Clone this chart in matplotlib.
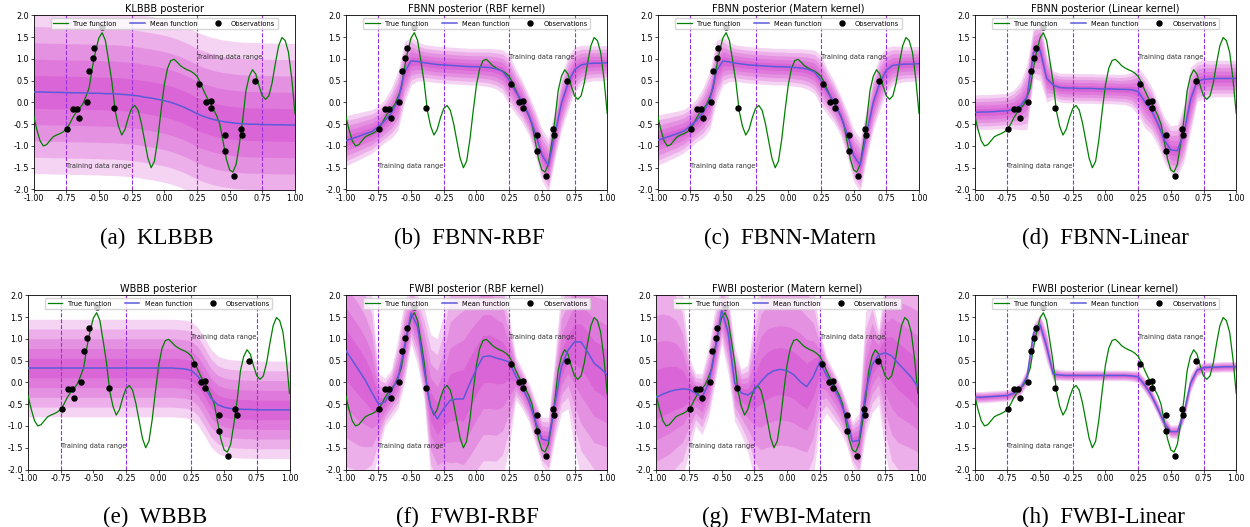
import numpy as np
import matplotlib.pyplot as plt

# true function on a 0.025 grid
x_true = np.linspace(-1, 1, 81)
y_true = [-0.30, -0.62, -0.88, -1.00, -0.97, -0.88, -0.79, -0.75, -0.72, -0.68,
          -0.62, -0.50, -0.35, -0.23, -0.14, -0.05, 0.13, 0.33, 0.80, 1.18,
          1.48, 1.60, 1.42, 0.95, 0.46, -0.20, -0.55, -0.75, -0.62, -0.35,
          -0.14, -0.07, -0.18, -0.48, -0.88, -1.28, -1.50, -1.35, -0.85, -0.20,
          0.40, 0.78, 0.96, 0.99, 0.92, 0.84, 0.79, 0.75, 0.72, 0.67,
          0.60, 0.46, 0.28, 0.12, 0.00, -0.15, -0.30, -0.50, -0.90, -1.30,
          -1.55, -1.60, -1.42, -0.95, -0.40, 0.27, 0.60, 0.75, 0.65, 0.38,
          0.15, 0.07, 0.15, 0.45, 0.90, 1.30, 1.49, 1.42, 1.15, 0.55,
          -0.25]

obs_x = [-0.743, -0.697, -0.667, -0.651, -0.593, -0.573, -0.547, -0.534, -0.476, -0.384,
         0.267, 0.323, 0.354, 0.354, 0.461, 0.461, 0.532, 0.585, 0.595, 0.692]
obs_y = [-0.60, -0.16, -0.16, -0.36, 0.00, 0.73, 1.03, 1.24, 1.72, -0.14,
         0.43, 0.02, 0.03, -0.13, -0.75, -1.12, -1.68, -0.62, -0.75, 0.49]

# posterior summaries on a 0.05 grid
x_grid = np.linspace(-1, 1, 41)

kl_mean = [0.24, 0.24, 0.235, 0.23, 0.23, 0.225, 0.22, 0.22, 0.215,
           0.21, 0.21, 0.20, 0.20, 0.19, 0.18, 0.165, 0.15, 0.12, 0.10, 0.07,
           0.04, 0.0, -0.05, -0.11, -0.18, -0.26, -0.32, -0.37, -0.41, -0.44,
           -0.46, -0.48, -0.49, -0.50, -0.50, -0.51, -0.51, -0.515, -0.515, -0.52, -0.52]
kl_width = [1.875, 1.875, 1.875, 1.875, 1.875, 1.875, 1.875, 1.875, 1.875,
            1.875, 1.875, 1.875, 1.875, 1.875, 1.875, 1.875, 1.875, 1.875, 1.875, 1.875,
            1.875, 1.875, 1.875, 1.875, 1.875, 1.875, 1.875, 1.875, 1.875, 1.875,
            1.875, 1.875, 1.875, 1.875, 1.875, 1.875, 1.875, 1.875, 1.875, 1.875, 1.875]

rbf_mean = [-0.88, -0.83, -0.78, -0.72, -0.67, -0.56, -0.42, -0.24, 0.04,
            0.70, 0.95, 0.94, 0.91, 0.89, 0.87, 0.86, 0.85, 0.84, 0.83, 0.82,
            0.82, 0.81, 0.80, 0.77, 0.71, 0.52, 0.25, 0.02, -0.29, -0.70,
            -1.20, -1.45, -0.72, -0.02, 0.44, 0.75, 0.86, 0.89, 0.90, 0.90, 0.91]
rbf_width = [0.58, 0.56, 0.54, 0.52, 0.50, 0.48, 0.50, 0.58, 0.68,
             0.70, 0.55, 0.45, 0.42, 0.42, 0.42, 0.42, 0.42, 0.42, 0.42, 0.42,
             0.42, 0.43, 0.44, 0.46, 0.50, 0.58, 0.52, 0.48, 0.46, 0.52,
             0.60, 0.62, 0.58, 0.62, 0.62, 0.52, 0.45, 0.42, 0.40, 0.40, 0.40]

mat_mean = [-0.87, -0.82, -0.77, -0.72, -0.66, -0.55, -0.41, -0.23, 0.05,
            0.72, 0.95, 0.93, 0.90, 0.88, 0.86, 0.85, 0.84, 0.83, 0.82, 0.82,
            0.81, 0.80, 0.79, 0.76, 0.70, 0.51, 0.24, 0.01, -0.30, -0.72,
            -1.22, -1.44, -0.70, 0.00, 0.45, 0.74, 0.85, 0.87, 0.88, 0.88, 0.89]
mat_width = [0.58, 0.56, 0.54, 0.52, 0.50, 0.48, 0.50, 0.58, 0.68,
             0.70, 0.55, 0.45, 0.42, 0.42, 0.42, 0.42, 0.42, 0.42, 0.42, 0.42,
             0.42, 0.43, 0.44, 0.46, 0.50, 0.58, 0.52, 0.48, 0.46, 0.52,
             0.60, 0.62, 0.58, 0.62, 0.62, 0.52, 0.45, 0.42, 0.40, 0.40, 0.40]

lin_mean = [-0.23, -0.22, -0.22, -0.21, -0.20, -0.19, -0.16, -0.08, 0.13,
            1.15, 1.20, 0.55, 0.40, 0.34, 0.33, 0.33, 0.32, 0.32, 0.32, 0.31,
            0.31, 0.31, 0.30, 0.30, 0.29, 0.25, 0.02, -0.17, -0.48, -0.86,
            -1.09, -1.11, -0.71, 0.06, 0.48, 0.53, 0.54, 0.55, 0.55, 0.55, 0.55]
lin_width = [0.40, 0.40, 0.40, 0.40, 0.40, 0.40, 0.45, 0.55, 0.75,
             0.60, 0.70, 0.55, 0.32, 0.33, 0.34, 0.34, 0.34, 0.34, 0.34, 0.34,
             0.34, 0.34, 0.34, 0.35, 0.40, 0.55, 0.60, 0.55, 0.50, 0.52,
             0.55, 0.60, 0.65, 0.75, 0.46, 0.45, 0.42, 0.42, 0.42, 0.42, 0.42]

wb_mean = [0.33, 0.33, 0.33, 0.33, 0.33, 0.33, 0.33, 0.33, 0.33,
           0.33, 0.33, 0.33, 0.33, 0.33, 0.33, 0.33, 0.33, 0.33, 0.33, 0.33,
           0.33, 0.33, 0.33, 0.32, 0.31, 0.27, 0.14, -0.10, -0.36, -0.51,
           -0.57, -0.60, -0.61, -0.62, -0.62, -0.63, -0.63, -0.63, -0.63, -0.63, -0.63]
wb_width = [1.12, 1.12, 1.12, 1.12, 1.12, 1.12, 1.12, 1.12, 1.12,
            1.12, 1.12, 1.12, 1.12, 1.12, 1.12, 1.12, 1.12, 1.12, 1.12, 1.12,
            1.12, 1.12, 1.12, 1.12, 1.12, 1.12, 1.12, 1.12, 1.12, 1.12,
            1.12, 1.12, 1.12, 1.12, 1.12, 1.12, 1.12, 1.12, 1.12, 1.12, 1.12]

fwbi_rbf_mean = [0.73, 0.51, 0.28, 0.05, -0.23, -0.50, -0.45, -0.19, 0.09,
                 0.82, 1.59, 1.28, 0.28, -0.57, -0.84, -0.60, -0.41, -0.38, -0.38, -0.02,
                 0.31, 0.59, 0.61, 0.56, 0.52, 0.47, 0.15, -0.11, -0.42, -0.88,
                 -1.30, -1.34, -0.50, 0.36, 0.74, 0.93, 0.93, 0.70, 0.44, 0.32, 0.17]
fwbi_rbf_hi = [3.2, 3.0, 2.8, 2.5, 2.0, 0.2, 0.1, 0.3, 1.0,
               1.9, 2.2, 2.0, 1.7, 1.1, 1.0, 1.6, 2.6, 2.8, 3.0, 3.0,
               3.0, 3.0, 3.0, 2.8, 2.6, 1.5, 0.6, 0.3, 0.0, -0.4,
               -0.8, -0.8, 0.6, 2.2, 2.5, 3.0, 3.0, 3.0, 3.0, 3.0, 3.0]
fwbi_rbf_lo = [-2.6, -2.6, -2.6, -2.5, -2.3, -1.6, -1.0, -0.8, -0.6,
               0.0, 0.9, 0.4, -0.4, -2.2, -2.6, -2.6, -2.8, -2.8, -2.9, -2.8,
               -2.6, -2.4, -2.4, -2.4, -2.2, -1.5, -0.4, -0.6, -0.9, -1.4,
               -1.9, -2.1, -1.3, -0.7, -0.6, -1.5, -2.2, -2.4, -2.6, -2.6, -2.6]

fwbi_mat_mean = [-0.34, -0.27, -0.21, -0.17, -0.15, -0.16, -0.25, -0.34, -0.02,
                 0.74, 1.66, 1.13, -0.02, -0.24, -0.29, -0.18, 0.02, 0.18, 0.27, 0.30,
                 0.27, 0.18, 0.02, -0.10, 0.13, 0.47, 0.17, -0.08, -0.37, -0.79,
                 -1.36, -1.33, -0.25, 0.40, 0.63, 0.68, 0.61, 0.44, 0.28, 0.12, -0.10]
fwbi_mat_hi = [2.8, 2.8, 2.7, 2.5, 2.0, 0.6, 0.2, 0.2, 0.8,
               1.7, 2.2, 2.0, 0.8, 0.3, 0.4, 1.5, 2.6, 2.8, 2.8, 2.8,
               2.8, 2.8, 2.8, 2.6, 2.2, 1.2, 0.6, 0.3, 0.0, -0.4,
               -0.9, -0.7, 1.6, 2.0, 1.2, 2.4, 2.8, 2.8, 2.8, 2.8, 2.8]
fwbi_mat_lo = [-2.8, -2.7, -2.6, -2.4, -2.2, -1.6, -1.0, -1.2, -0.8,
               0.0, 0.9, 0.2, -0.9, -1.2, -1.6, -2.2, -2.6, -2.6, -2.6, -2.6,
               -2.6, -2.6, -2.6, -2.6, -2.2, -1.0, -0.7, -0.9, -1.1, -1.4,
               -1.9, -2.2, -1.2, -0.7, -0.5, -1.6, -2.4, -2.6, -2.6, -2.6, -2.6]

fwbi_lin_mean = [-0.34, -0.34, -0.33, -0.32, -0.31, -0.30, -0.25, -0.14, 0.13,
                 1.13, 1.32, 0.82, 0.19, 0.17, 0.16, 0.16, 0.16, 0.16, 0.16, 0.16,
                 0.16, 0.16, 0.16, 0.16, 0.15, 0.13, -0.06, -0.29, -0.60, -0.94,
                 -1.13, -1.13, -0.71, -0.02, 0.28, 0.34, 0.35, 0.35, 0.36, 0.36, 0.36]
fwbi_lin_width = [0.13, 0.13, 0.13, 0.13, 0.13, 0.13, 0.13, 0.15, 0.20,
                  0.22, 0.25, 0.35, 0.15, 0.12, 0.12, 0.12, 0.12, 0.12, 0.12, 0.12,
                  0.12, 0.12, 0.12, 0.12, 0.12, 0.14, 0.16, 0.16, 0.16, 0.16,
                  0.15, 0.16, 0.18, 0.20, 0.14, 0.12, 0.12, 0.12, 0.12, 0.12, 0.12]


def sym(mean, width):
    m = np.array(mean)
    w = np.array(width)
    return m, m + w, m - w


panels = [
    ("KLBBB posterior", "(a)  KLBBB", sym(kl_mean, kl_width)),
    ("FBNN posterior (RBF kernel)", "(b)  FBNN-RBF", sym(rbf_mean, rbf_width)),
    ("FBNN posterior (Matern kernel)", "(c)  FBNN-Matern", sym(mat_mean, mat_width)),
    ("FBNN posterior (Linear kernel)", "(d)  FBNN-Linear", sym(lin_mean, lin_width)),
    ("WBBB posterior", "(e)  WBBB", sym(wb_mean, wb_width)),
    ("FWBI posterior (RBF kernel)", "(f)  FWBI-RBF",
     (np.array(fwbi_rbf_mean), np.array(fwbi_rbf_hi), np.array(fwbi_rbf_lo))),
    ("FWBI posterior (Matern kernel)", "(g)  FWBI-Matern",
     (np.array(fwbi_mat_mean), np.array(fwbi_mat_hi), np.array(fwbi_mat_lo))),
    ("FWBI posterior (Linear kernel)", "(h)  FWBI-Linear", sym(fwbi_lin_mean, fwbi_lin_width)),
]

W, H = 1250, 527
fig = plt.figure(figsize=(W / 100, H / 100), dpi=100)
fig.patch.set_facecolor('white')

# axes boxes in pixels
lefts = [33.5, 345.7, 657.5, 974.7, 28.0, 345.7, 656.3, 974.7]
tops = [15.3] * 4 + [295.3] * 4
cap_x = [157, 469, 790, 1105, 155, 467, 787, 1103]
cap_y = [238] * 4 + [517] * 4
aw, ah = 261.5, 174.2

band_col = '#c80cc0'
mean_col = '#5b5bd9'
vl_col = '#9a2fe0'

for i, (title, caption, (mean, hi, lo)) in enumerate(panels):
    ax = fig.add_axes([lefts[i] / W, 1 - (tops[i] + ah) / H, aw / W, ah / H])
    for k in range(1, 6):
        f = k / 5
        ax.fill_between(x_grid, mean + (hi - mean) * f, mean - (mean - lo) * f,
                        color=band_col, alpha=0.18, lw=0, zorder=1)
    for xv in [-0.75, -0.25, 0.25, 0.75]:
        ax.axvline(xv, color=vl_col, ls='--', lw=0.8, zorder=2)
    ax.plot(x_true, y_true, color='green', lw=0.9, label='True function', zorder=3)
    ax.plot(x_grid, mean, color=mean_col, lw=1.1, label='Mean function', zorder=3)
    ax.plot(obs_x, obs_y, 'o', color='black', ms=3.6, label='Observations', zorder=4)
    ax.text(-0.75, -1.5, 'Training data range', fontsize=4.8, color='#333333', zorder=5)
    ax.text(0.25, 1.0, 'Training data range', fontsize=4.8, color='#333333', zorder=5)
    ax.set_xlim(-1, 1)
    ax.set_ylim(-2, 2)
    ax.set_xticks(np.arange(-1, 1.01, 0.25))
    ax.set_yticks(np.arange(-2, 2.01, 0.5))
    ax.xaxis.set_major_formatter(plt.FormatStrFormatter('%.2f'))
    ax.yaxis.set_major_formatter(plt.FormatStrFormatter('%.1f'))
    ax.tick_params(labelsize=5.8, length=2, width=0.5, pad=1.5)
    for s in ax.spines.values():
        s.set_linewidth(0.6)
    ax.set_title(title, fontsize=7, pad=2.5)
    ax.legend(loc='upper center', ncol=3, fontsize=4.8, borderaxespad=0.4,
              handlelength=2.2, columnspacing=2.0)
    fig.text(cap_x[i] / W, 1 - cap_y[i] / H, caption, ha='center', va='center',
             fontsize=16.5, family='Liberation Serif')

fig.savefig('out.png', dpi=100)
